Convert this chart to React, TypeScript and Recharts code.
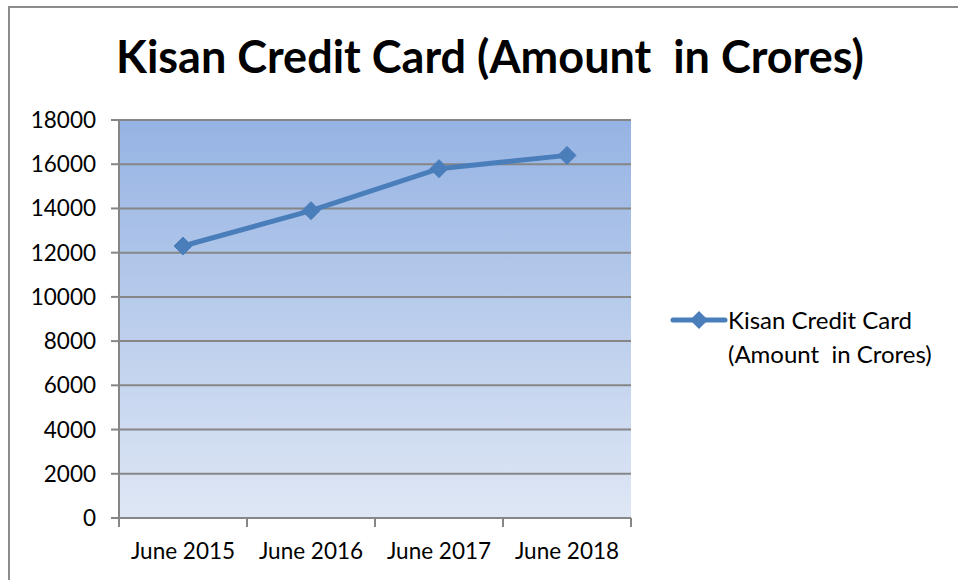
import React from "react";
import { LineChart, Line, XAxis, YAxis, CartesianGrid } from "recharts";

const categories = ["June 2015", "June 2016", "June 2017", "June 2018"];
const amounts = [12300, 13900, 15800, 16400];
const yTicks = [0, 2000, 4000, 6000, 8000, 10000, 12000, 14000, 16000, 18000];
const seriesName = "Kisan Credit Card (Amount  in Crores)";

const data = categories.map((c, i) => ({ name: c, value: amounts[i] }));

const FONT = "Lato, 'Open Sans', sans-serif";
const LINE = "#4a7ebb";
const GRID = "#868686";

const Diamond = (props: any) => {
  const { cx, cy } = props;
  if (cx == null || cy == null) return null;
  const r = 9;
  return (
    <polygon
      points={`${cx},${cy - r} ${cx + r},${cy} ${cx},${cy + r} ${cx - r},${cy}`}
      fill={LINE}
      stroke={LINE}
      strokeWidth={1}
    />
  );
};

const CategoryTick = (props: any) => {
  const { x, y, payload, index, visibleTicksCount } = props;
  const half = payload && payload.offset ? payload.offset : 0;
  const isLast = visibleTicksCount != null ? index === visibleTicksCount - 1 : index === categories.length - 1;
  return (
    <g>
      <line x1={x - half} y1={y} x2={x - half} y2={y + 9} stroke={GRID} strokeWidth={2} />
      {isLast && <line x1={x + half} y1={y} x2={x + half} y2={y + 9} stroke={GRID} strokeWidth={2} />}
      <text
        x={x}
        y={y + 41}
        textAnchor="middle"
        fontFamily={FONT}
        fontSize={22.5}
        fill="#000"
      >
        {payload.value}
      </text>
    </g>
  );
};

export default function App() {
  return (
    <div style={{ position: "absolute", left: 0, top: 0, width: 958, height: 580, overflow: "hidden", background: "#fff" }}>
      <div
        style={{
          position: "absolute",
          left: 8,
          top: 6,
          width: 1000,
          height: 700,
          border: "2px solid #8c8c8c",
          boxSizing: "border-box",
        }}
      />
      <div
        style={{
          position: "absolute",
          left: 0,
          width: 980,
          top: 28,
          textAlign: "center",
          fontFamily: FONT,
          fontWeight: 700,
          fontSize: 45,
          lineHeight: "56px",
          color: "#000",
          whiteSpace: "pre",
        }}
      >
        {seriesName}
      </div>
      <div style={{ position: "absolute", left: 0, top: 0 }}>
        <LineChart
          width={958}
          height={580}
          data={data}
          margin={{ top: 120, right: 327, bottom: 32, left: 59 }}
        >
          <defs>
            <linearGradient id="bgGrad" x1="0" y1="0" x2="0" y2="1">
              <stop offset="0%" stopColor="#95b3e3" />
              <stop offset="100%" stopColor="#dfe7f5" />
            </linearGradient>
          </defs>
          <CartesianGrid
            vertical={false}
            stroke={GRID}
            strokeWidth={2}
            fill="url(#bgGrad)"
            fillOpacity={1}
          />
          <XAxis
            dataKey="name"
            scale="band"
            interval={0}
            height={30}
            tickLine={false}
            tickSize={0}
            tickMargin={0}
            axisLine={{ stroke: GRID, strokeWidth: 2 }}
            tick={<CategoryTick />}
          />
          <YAxis
            width={60}
            domain={[0, 18000]}
            ticks={yTicks}
            interval={0}
            tickSize={8}
            tickMargin={15}
            tickLine={{ stroke: GRID, strokeWidth: 2 }}
            axisLine={{ stroke: GRID, strokeWidth: 2 }}
            tick={{ fontFamily: FONT, fontSize: 22.5, fill: "#000" }}
          />
          <Line
            type="linear"
            dataKey="value"
            name={seriesName}
            stroke={LINE}
            strokeWidth={5}
            dot={<Diamond />}
            activeDot={false}
            isAnimationActive={false}
          />
        </LineChart>
      </div>
      <div
        style={{
          position: "absolute",
          left: 670,
          top: 305,
          display: "flex",
          alignItems: "flex-start",
          fontFamily: FONT,
          fontSize: 24,
          color: "#000",
          whiteSpace: "pre",
        }}
      >
        <svg width={58} height={30}>
          <line x1={3} y1={15} x2={55} y2={15} stroke={LINE} strokeWidth={5} strokeLinecap="round" />
          <polygon points="29,6 38,15 29,24 20,15" fill={LINE} />
        </svg>
        <div style={{ lineHeight: "34px", marginTop: -2 }}>
          {"Kisan Credit Card"}
          <br />
          {"(Amount  in Crores)"}
        </div>
      </div>
    </div>
  );
}
